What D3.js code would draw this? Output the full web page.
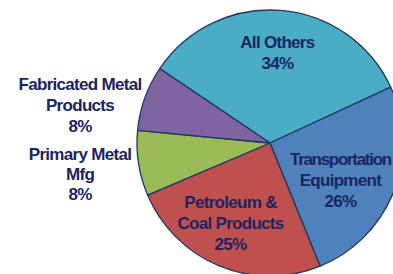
<!DOCTYPE html>
<html><head><meta charset="utf-8">
<script src="https://cdn.jsdelivr.net/npm/d3@7"></script>
<style>
html,body{margin:0;padding:0;background:#fff;overflow:hidden}
svg{display:block}
text{font-family:"Liberation Sans",Arial,sans-serif;font-weight:bold;fill:#1b2462}
</style></head>
<body>
<svg id="chart" width="393" height="274"></svg>
<script>
const categories = ["All Others","Transportation Equipment","Petroleum & Coal Products","Primary Metal Mfg","Fabricated Metal Products"];
const values = [34, 26, 25, 8, 8];
const labelLines = [["All Others"],["Transportation","Equipment"],["Petroleum &","Coal Products"],["Primary Metal","Mfg"],["Fabricated Metal","Products"]];
const colors = ["#4bacc6","#4f81bd","#c0504d","#9bbb59","#8064a2"];

const svg = d3.select("#chart");
const cx = 270, cy = 143, r = 133;
const g = svg.append("g").attr("transform", `translate(${cx},${cy})`);

const pie = d3.pie().sort(null).value(d => d).startAngle(-56*Math.PI/180).endAngle(304*Math.PI/180);
const arcs = pie(values);
const arc = d3.arc().innerRadius(0).outerRadius(r);

g.selectAll("path").data(arcs).join("path")
  .attr("d", arc)
  .attr("fill", (d,i) => colors[i])
  .attr("stroke", "#1f3864")
  .attr("stroke-width", 1.3)
  .attr("stroke-linejoin","round");

const fs = 17;
const labelArc = d3.arc().innerRadius(80).outerRadius(80);
function anchor(d, i) {
  const a = (d.startAngle + d.endAngle) / 2;
  if (i === 0) { const c = labelArc.centroid(d); return [c[0] + 1, c[1] - 10]; }
  if (i === 1) { const c = labelArc.centroid(d); return [c[0] - 4, c[1] + 8]; }
  if (i === 2) { const c = labelArc.centroid(d); return [c[0] - 9, c[1] + 6.5]; }
  // small slices: labels outside on the left
  const rr = [205, 118][i-3];
  return [-r - 57, -Math.cos(a)*rr + (i === 3 ? 0.5 : 2)];
}
arcs.forEach((d, i) => {
  const [x, y] = anchor(d, i);
  const lines = labelLines[i].concat([values[i] + "%"]);
  const n = lines.length;
  const lh = i === 3 ? 20 : 21;
  const t = g.append("text")
    .attr("text-anchor", "middle")
    .attr("font-size", fs)
    .attr("letter-spacing", -0.7);
  lines.forEach((s, k) => {
    t.append("tspan").attr("x", x)
      .attr("y", y + (k - (n-1)/2) * lh + fs*0.33)
      .attr("letter-spacing", s === "Transportation" ? -1.3 : null)
      .text(s);
  });
});
</script>
</body></html>
